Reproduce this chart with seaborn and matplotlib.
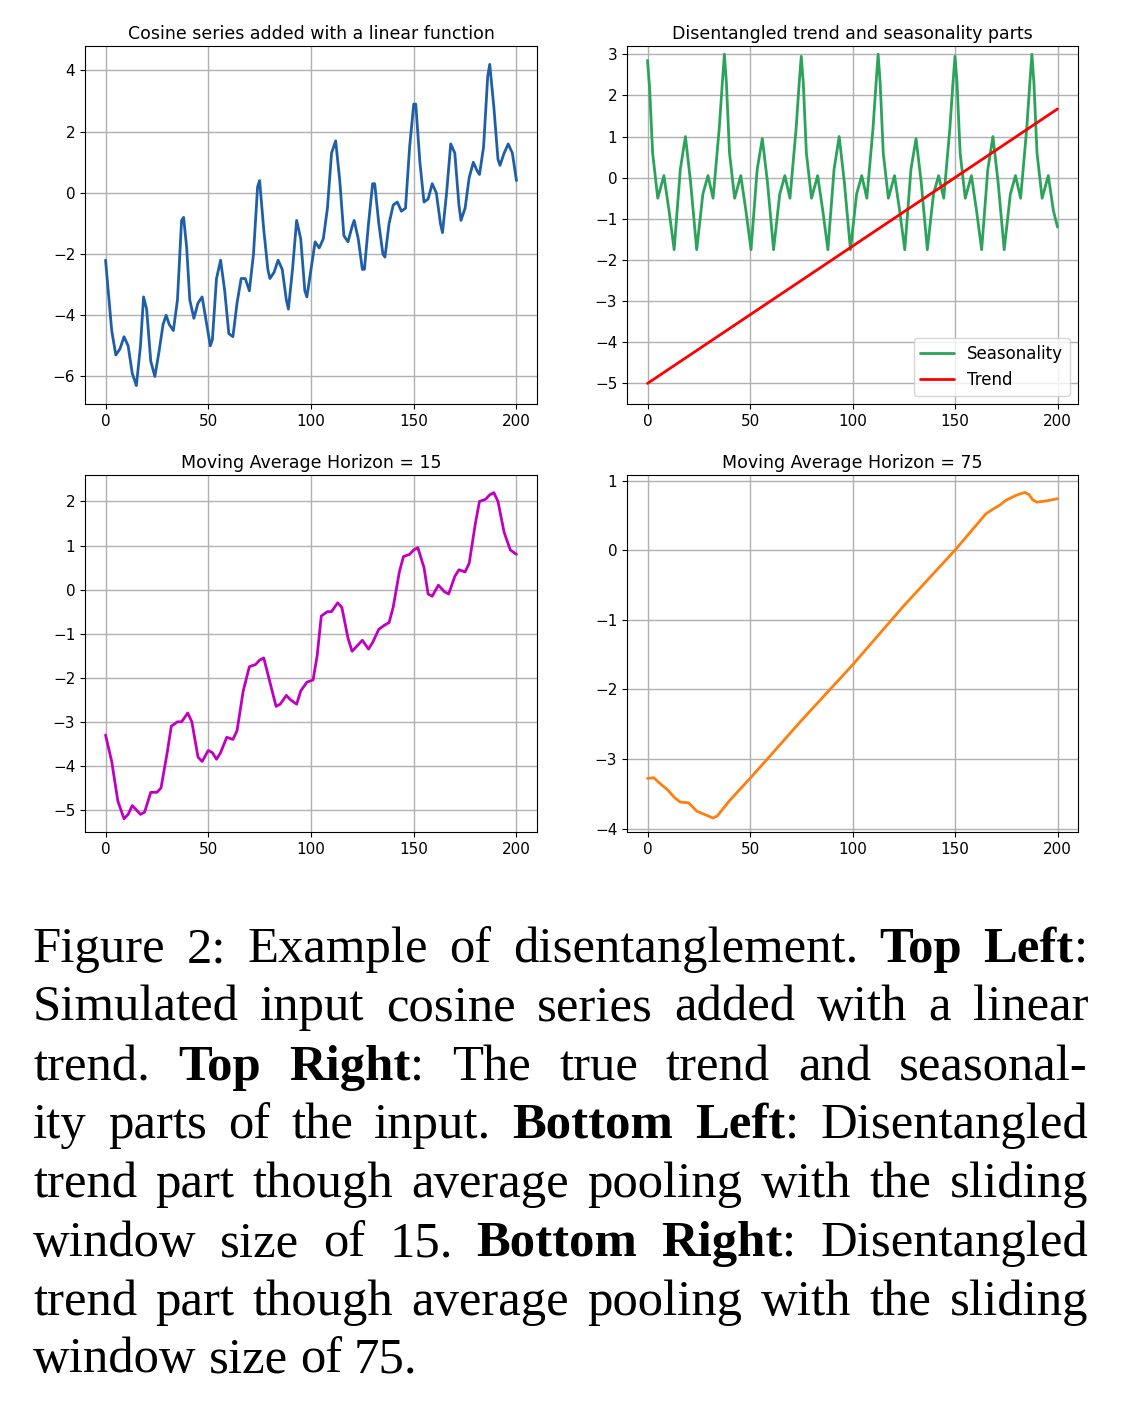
import numpy as np
import pandas as pd
import matplotlib
matplotlib.use("Agg")
import matplotlib.pyplot as plt
import seaborn as sns

# ---- data ----
tl_x = [0,3,5,7,9,11,13,15,17,18.5,20,22,24,26,28,29.5,31,33,35,37,38,39.5,41,43,45,47,49,51,52,54,56,58,60,62,64,66,68,70,72,74,75,77,79,80,82,84,86,88,89,91,93,95,97,98,100,102,104,106,108,110,112,114,116,118,120,121,123,125,126,128,130,131,133,135,136,138,140,142,144,146,148,150,151,153,155,157,159,161,163,164,166,168,170,172,173,175,177,179,181,182,184,186,187,189,191,192,194,196,198,200]
tl_y = [-2.2,-4.5,-5.3,-5.1,-4.7,-5.0,-5.9,-6.3,-5.0,-3.4,-3.8,-5.5,-6.0,-5.2,-4.3,-4.0,-4.3,-4.5,-3.5,-0.9,-0.8,-1.8,-3.5,-4.1,-3.6,-3.4,-4.2,-5.0,-4.8,-2.8,-2.2,-3.2,-4.6,-4.7,-3.6,-2.8,-2.8,-3.2,-2.0,0.2,0.4,-1.2,-2.5,-2.8,-2.6,-2.2,-2.5,-3.5,-3.8,-2.5,-0.9,-1.5,-3.2,-3.4,-2.5,-1.6,-1.8,-1.5,-0.5,1.3,1.7,0.4,-1.4,-1.6,-1.1,-0.9,-1.5,-2.5,-2.5,-1.0,0.3,0.3,-1.0,-2.0,-2.1,-1.0,-0.4,-0.3,-0.6,-0.5,1.5,2.9,2.9,1.0,-0.3,-0.2,0.3,0.0,-1.0,-1.3,0.0,1.6,1.3,-0.4,-0.9,-0.5,0.5,1.0,0.7,0.6,1.5,3.8,4.2,2.8,1.1,0.9,1.3,1.6,1.3,0.4]

seas_x = [0,1,2.5,5,8,10.5,13,16,18.5,21,24,27,29.5,32,35,36.5,
          37.5,38.5,40,42.5,45.5,48,50.5,53.5,56,58.5,61.5,64.5,67,69.5,72.5,74,
          75,76,77.5,80,83,85.5,88,91,93.5,96,99,102,104.5,107,110,111.5,
          112.5,113.5,115,117.5,120.5,123,125.5,128.5,131,133.5,136.5,139.5,142,144.5,147.5,149,
          150,151,152.5,155,158,160.5,163,166,168.5,171,174,177,179.5,182,185,186.5,
          187.5,188.5,190,192.5,195.5,198,200]
seas_y = [2.85,2.2,0.6,-0.5,0.05,-0.8,-1.75,0.2,1.0,-0.1,-1.75,-0.4,0.05,-0.5,1.2,2.3,
          3.0,2.3,0.6,-0.5,0.05,-0.8,-1.75,0.2,0.95,-0.1,-1.75,-0.4,0.05,-0.5,1.2,2.3,
          2.95,2.3,0.6,-0.5,0.05,-0.8,-1.75,0.2,1.0,-0.1,-1.75,-0.4,0.05,-0.5,1.2,2.3,
          3.0,2.3,0.6,-0.5,0.05,-0.8,-1.75,0.2,0.95,-0.1,-1.75,-0.4,0.05,-0.5,1.2,2.3,
          2.95,2.3,0.6,-0.5,0.05,-0.8,-1.75,0.2,1.0,-0.1,-1.75,-0.4,0.05,-0.5,1.2,2.3,
          3.0,2.3,0.6,-0.5,0.05,-0.8,-1.2]
trend_x = [0,200]
trend_y = [-5.0,1.67]

ma15_x = [0,3,6,9,11,13,15,17,19,22,25,27,30,32,35,37,40,42,45,47,50,52,54,56,59,62,64,67,70,73,75,77,80,83,85,88,90,93,95,98,101,103,105,108,110,113,115,118,120,122,125,128,130,133,136,138,140,143,145,148,150,152,155,157,159,162,165,167,170,172,175,177,180,182,185,187,189,191,194,197,200]
ma15_y = [-3.3,-3.9,-4.8,-5.2,-5.1,-4.9,-5.0,-5.1,-5.05,-4.6,-4.6,-4.5,-3.7,-3.1,-3.0,-3.0,-2.8,-3.0,-3.8,-3.9,-3.65,-3.7,-3.85,-3.7,-3.35,-3.4,-3.2,-2.3,-1.75,-1.7,-1.6,-1.55,-2.1,-2.65,-2.6,-2.4,-2.5,-2.6,-2.3,-2.1,-2.05,-1.5,-0.6,-0.5,-0.5,-0.3,-0.4,-1.1,-1.4,-1.3,-1.15,-1.35,-1.2,-0.9,-0.8,-0.75,-0.4,0.4,0.75,0.8,0.9,0.95,0.5,-0.1,-0.15,0.1,-0.05,-0.1,0.3,0.45,0.4,0.6,1.5,2.0,2.05,2.15,2.2,2.0,1.3,0.9,0.8]

ma75_x = [0,3,6,10,13,16,20,24,28,32,34,40,50,60,75,100,125,150,165,168,172,175,180,184,186,188,190,195,200]
ma75_y = [-3.28,-3.27,-3.35,-3.45,-3.55,-3.62,-3.63,-3.75,-3.8,-3.85,-3.82,-3.6,-3.28,-2.95,-2.45,-1.65,-0.8,0.0,0.52,0.58,0.65,0.72,0.79,0.83,0.8,0.72,0.69,0.71,0.74]

titles = ["Cosine series added with a linear function", "Disentangled trend and seasonality parts",
          "Moving Average Horizon = 15", "Moving Average Horizon = 75"]

sns.set_style("ticks")
plt.rcParams['font.family'] = ['DejaVu Sans']
plt.rcParams['text.color'] = 'black'
plt.rcParams['xtick.color'] = 'black'
plt.rcParams['ytick.color'] = 'black'

W, H = 1134, 1404
fig = plt.figure(figsize=(W/100, H/100), dpi=100)

def ax_at(l, r, t, b):
    return fig.add_axes([l/W, 1-b/H, (r-l)/W, (b-t)/H])

axs = [ax_at(85, 537, 46, 404), ax_at(627, 1078, 46, 404),
       ax_at(85, 537, 475, 832), ax_at(627, 1078, 475, 832)]

sns.lineplot(x=tl_x, y=tl_y, ax=axs[0], color='#1f5fa8', lw=2)
sns.lineplot(x=seas_x, y=seas_y, ax=axs[1], color='#2ca35a', lw=2, label='Seasonality')
sns.lineplot(x=trend_x, y=trend_y, ax=axs[1], color='red', lw=2, label='Trend')
sns.lineplot(x=ma15_x, y=ma15_y, ax=axs[2], color='#c000c0', lw=2)
sns.lineplot(x=ma75_x, y=ma75_y, ax=axs[3], color='#ff7f0e', lw=2)

ylims = [(-6.9, 4.8), (-5.5, 3.2), (-5.5, 2.6), (-4.05, 1.08)]
yticks = [range(-6, 5, 2), range(-5, 4), range(-5, 3), range(-4, 2)]
for ax, t, yl, yt in zip(axs, titles, ylims, yticks):
    ax.set_title(t, fontsize=12.5, pad=5, color='black')
    ax.set_xlim(-10, 210)
    ax.set_ylim(*yl)
    ax.set_xticks([0, 50, 100, 150, 200])
    ax.set_yticks(list(yt))
    ax.grid(True, color='#b0b0b0', lw=1)
    ax.tick_params(labelsize=11)
    ax.set_xlabel(''); ax.set_ylabel('')
    for s in ax.spines.values():
        s.set_color('black'); s.set_linewidth(0.8)
axs[1].legend(loc='lower right', fontsize=12, frameon=True)

# ---- caption, justified ----
lines = [
    [("Figure", 0), ("2:", 0), ("Example", 0), ("of", 0), ("disentanglement.", 0), ("Top", 1), ("Left:", 1)],
    [("Simulated", 0), ("input", 0), ("cosine", 0), ("series", 0), ("added", 0), ("with", 0), ("a", 0), ("linear", 0)],
    [("trend.", 0), ("Top", 1), ("Right:", 1), ("The", 0), ("true", 0), ("trend", 0), ("and", 0), ("seasonal-", 0)],
    [("ity", 0), ("parts", 0), ("of", 0), ("the", 0), ("input.", 0), ("Bottom", 1), ("Left:", 1), ("Disentangled", 0)],
    [("trend", 0), ("part", 0), ("though", 0), ("average", 0), ("pooling", 0), ("with", 0), ("the", 0), ("sliding", 0)],
    [("window", 0), ("size", 0), ("of", 0), ("15.", 0), ("Bottom", 1), ("Right:", 1), ("Disentangled", 0)],
    [("trend", 0), ("part", 0), ("though", 0), ("average", 0), ("pooling", 0), ("with", 0), ("the", 0), ("sliding", 0)],
    [("window", 0), ("size", 0), ("of", 0), ("75.", 0)],
]
fig.canvas.draw()
r = fig.canvas.get_renderer()
x0, x1 = 33, 1088
ys = [950, 1008, 1068, 1126, 1185, 1244, 1303, 1360]
fs = 36.5
for li, (words, yc) in enumerate(zip(lines, ys)):
    texts = []
    for w_, b in words:
        if w_.endswith(":") and b:
            tb = fig.text(0, 1-yc/H, w_[:-1], fontsize=fs, family='Liberation Serif', weight='bold', va='center', color='black')
            tc = fig.text(0, 1-yc/H, ":", fontsize=fs, family='Liberation Serif', va='center', color='black')
            texts.append([tb, tc])
        else:
            texts.append([fig.text(0, 1-yc/H, w_, fontsize=fs, family='Liberation Serif',
                                   weight='bold' if b else 'normal', va='center', color='black')])
    widths = [[t.get_window_extent(r).width for t in grp] for grp in texts]
    total = sum(sum(w) for w in widths)
    last = li == len(lines) - 1
    gap = 12 if last else (x1 - x0 - total) / (len(words) - 1)
    x = x0
    for grp, ws in zip(texts, widths):
        for t, wv in zip(grp, ws):
            t.set_x(x / W)
            x += wv
        x += gap

fig.savefig("out.png", dpi=100)
